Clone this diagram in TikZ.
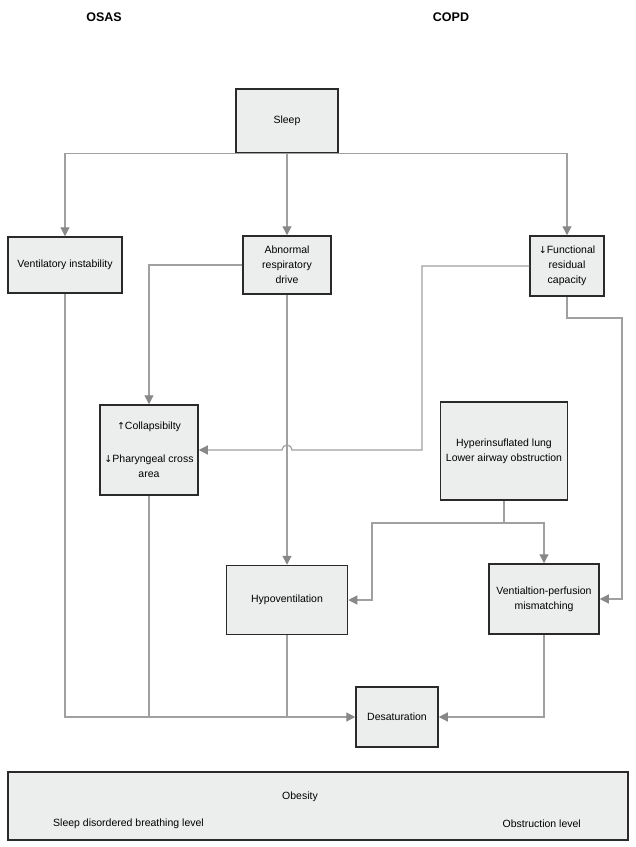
\documentclass[tikz,border=0pt]{standalone}
\usepackage{fontspec}
\setmainfont{Liberation Sans}
\newfontfamily\arrowfont{DejaVu Sans}
\newcommand{\upar}{{\arrowfont\fontsize{9.5}{15}\selectfont↑}}
\newcommand{\dnar}{{\arrowfont\fontsize{9.5}{15}\selectfont↓}}
\usetikzlibrary{arrows.meta}
\definecolor{boxfill}{HTML}{ECEDED}
\definecolor{boxdraw}{HTML}{2A2A2A}
\definecolor{conncol}{HTML}{A0A0A0}
\definecolor{tipcol}{HTML}{888888}
\begin{document}
\begin{tikzpicture}[x=1pt,y=-1pt,
  box/.style={draw=boxdraw,fill=boxfill,line width=1.5pt,inner sep=0pt,align=center,
    font=\fontsize{10.5}{15}\selectfont},
  conn/.style={draw=conncol,line width=1.2pt},
  arr/.style={conn,-{Triangle[length=9pt,width=9pt,fill=tipcol,color=tipcol]}},
  head/.style={font=\fontsize{12.5}{14}\selectfont\bfseries},
  plain/.style={inner sep=0pt,font=\fontsize{10.5}{15}\selectfont}]
\useasboundingbox (0,0) rectangle (636,847);

\node[head] (osas) at (104,17) {OSAS};
\node[head] (copd) at (451,17) {COPD};

\node[box,minimum width=102pt,minimum height=64pt] (sleep) at (287,121) {Sleep};
\node[box,minimum width=114pt,minimum height=56pt] (vent) at (65,265) {Ventilatory instability};
\node[box,minimum width=88pt,minimum height=58pt] (abn) at (287,265) {Abnormal\\respiratory\\drive};
\node[box,minimum width=74pt,minimum height=60pt] (frc) at (567,266) {\dnar Functional\\residual\\capacity};
\node[box,minimum width=98pt,minimum height=90pt] (coll) at (149,450) {\upar Collapsibilty\\[18pt]\dnar Pharyngeal cross\\area};
\node[box,minimum width=127pt,minimum height=98pt] (hyper) at (504,451) {Hyperinsuflated lung\\Lower airway obstruction};
\node[box,minimum width=121pt,minimum height=69pt] (hypo) at (287,600) {Hypoventilation};
\node[box,minimum width=110pt,minimum height=70pt] (vq) at (544,599) {Ventialtion-perfusion\\mismatching};
\node[box,minimum width=82pt,minimum height=60pt] (desat) at (397,717) {Desaturation};

\node[box,minimum width=620pt,minimum height=68pt] (obes) at (318,806) {};
\node[plain] (obtxt) at (300,797) {Obesity};
\node[plain,anchor=west] (sdb) at (53,824) {Sleep disordered breathing level};
\node[plain,anchor=east] (obl) at (581,824) {Obstruction level};

% top distribution
\draw[arr] (sleep.south) -- (abn.north);
\draw[arr] (sleep.south) -| (vent.north);
\draw[arr] (sleep.south) -| (frc.north);

% abnormal drive
\draw[arr] (abn.west) -| (coll.north);
\draw[arr] (abn.south) -- (hypo.north);

% FRC to collapsibility with hop
\coordinate (k1) at (422,450);
\draw[arr] (frc.west) -| (k1) -- ([xshift=5pt]abn.south |- k1)
  arc[start angle=0,end angle=180,radius=5pt] -- (coll.east);

% FRC to V/Q
\coordinate (k2) at (622,318);
\draw[arr] (frc.south) |- (k2) |- (vq.east);

% hyperinflated lung
\coordinate (k3) at (hyper.south |- 0,523);
\coordinate (k4) at (372,523);
\draw[arr] (hyper.south) -- (k3) -| (vq.north);
\draw[arr] (k3) -- (k4) |- (hypo.east);

% to desaturation
\draw[arr] (vent.south) |- (desat.west);
\draw[conn] (coll.south) -- (coll.south |- desat.west);
\draw[conn] (hypo.south) -- (hypo.south |- desat.west);
\draw[arr] (vq.south) |- (desat.east);
\end{tikzpicture}
\end{document}
